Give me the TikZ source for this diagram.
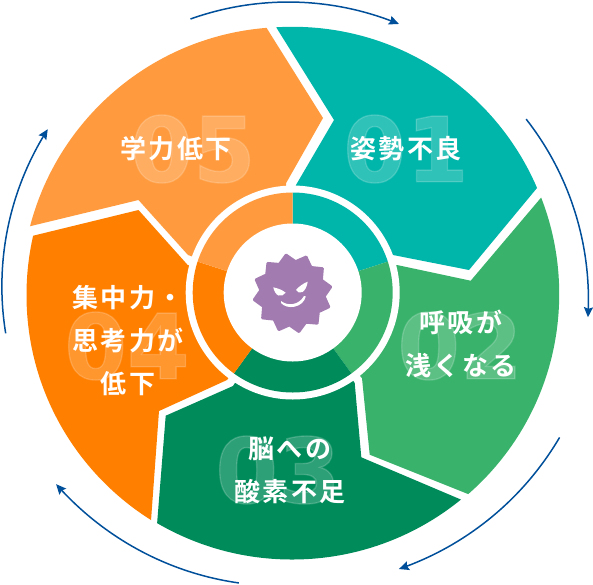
\documentclass[tikz,border=0pt]{standalone}
\usepackage{fontspec}
\usetikzlibrary{arrows.meta}
\newfontfamily\jpfont[LetterSpace=8,BoldFont={Noto Sans CJK JP Bold}]{Noto Sans CJK JP}
\newfontfamily\numfont[FakeBold=1.5]{DejaVu Sans Bold}
\definecolor{cteal}{HTML}{00B5A9}
\definecolor{cgreen}{HTML}{39B36B}
\definecolor{cdgreen}{HTML}{008C5A}
\definecolor{corange}{HTML}{FF7F00}
\definecolor{clorange}{HTML}{FF9B3E}
\definecolor{cpurple}{HTML}{A27BB0}
\definecolor{cblue}{HTML}{004F9A}
\tikzset{
  label/.style={text=white,font=\jpfont\bfseries\fontsize{26}{43}\selectfont,align=center,inner sep=0pt},
  bignum/.style={text=white,text opacity=0.18,font=\numfont\fontsize{90}{90}\selectfont,inner sep=0pt},
  cyc/.style={cblue,line width=1.5pt,-{Stealth[length=10pt,width=9pt,inset=1.5pt]}}
}
\newcommand{\cycarc}[4]{\draw[cyc] plot[domain=0:1,samples=40,smooth] ({292.7+(#3+(#4-#3)*\x)*cos(#1+(#2-#1)*\x)},{292.5+(#3+(#4-#3)*\x)*sin(#1+(#2-#1)*\x)});}
\begin{document}
\begin{tikzpicture}[x=1pt,y=1pt,yscale=-1]
\useasboundingbox (0,0) rectangle (593,584);
\coordinate (c) at (292.7,292.5);
% outer pieces
\begin{scope}
\clip (c) circle (265.7);
\fill[cteal] (276,27) -- (276,-20) -- (640,-20) -- (600,130) -- (537,188) -- (469,270) -- (393,255) -- (c) -- (296,185) -- (334,120) -- cycle;
\end{scope}
\begin{scope}
\clip (293.7,294) circle (265.5);
\fill[cgreen] (541,197.7) -- (620,150) -- (640,500) -- (520,540) -- (469.7,494.7) -- (369.7,454.7) -- (362,378.3) -- (c) -- (397,265) -- (470.7,280.7) -- cycle;
\end{scope}
\begin{scope}
\clip (292,291.5) circle (268);
\fill[cdgreen] (462,500) -- (520,560) -- (300,640) -- (100,600) -- (157,524.7) -- (165.7,415.7) -- (233,386) -- (c) -- (354.7,383) -- (361.3,457.3) -- cycle;
\end{scope}
\begin{scope}
\clip (292,295) circle (265.5);
\fill[corange] (151,520.7) -- (100,600) -- (-40,400) -- (-20,250) -- (32,236) -- (138.5,210) -- (187.7,265) -- (c) -- (227,380) -- (159,411) -- cycle;
\end{scope}
\begin{scope}
\clip (288,293.5) circle (266.5);
\fill[clorange] (31,226) -- (-20,240) -- (-20,0) -- (266,-20) -- (266,27) -- (323,118) -- (286,183.3) -- (c) -- (188,255) -- (138.5,200) -- cycle;
\end{scope}
% central ring
\fill[white] (c) circle (107);
\begin{scope}
\clip (c) circle (100);
\fill[cteal] (c) -- ++(-90:130) arc[start angle=-90,end angle=-18,radius=130] -- cycle;
\fill[cgreen] (c) -- ++(-18:130) arc[start angle=-18,end angle=54,radius=130] -- cycle;
\fill[cdgreen] (c) -- ++(54:130) arc[start angle=54,end angle=126,radius=130] -- cycle;
\fill[corange] (c) -- ++(126:130) arc[start angle=126,end angle=198,radius=130] -- cycle;
\fill[clorange] (c) -- ++(198:130) arc[start angle=198,end angle=270,radius=130] -- cycle;
\end{scope}
\fill[white] (c) circle (69);
% numbers
\node[bignum] (n1) at (406,149) {01};
\node[bignum] (n2) at (460,346) {02};
\node[bignum] (n3) at (278,470) {03};
\node[bignum] (n4) at (127,346) {04};
\node[bignum] (n5) at (193,149) {05};
% labels
\node[label] (t1) at (406,149) {姿勢不良};
\node[label] (t2) at (461,343.5) {呼吸が\\浅くなる};
\node[label] (t3) at (290,470.5) {脳への\\酸素不足};
\node[label] (t4) at (128,341) {集中力・\\思考力が\\低下};
\node[label] (t5) at (176,149) {学力低下};
% cycle arrows
\cycarc{249.5}{291.6}{292}{288.8}
\cycarc{-36.6}{4.8}{290.8}{296.3}
\cycarc{28.5}{69}{303.7}{296.2}
\cycarc{100.5}{141}{295.4}{304.5}
\cycarc{171.9}{213.7}{289.9}{294.4}
% germ
\fill[cpurple,draw=cpurple,line width=2.5pt,line join=round]
  plot[samples at={0,...,23}] ({292.5+(35.5+3.5*cos(180*\x))*cos(-99.5+15*\x)},{293.3+(35.5+3.5*cos(180*\x))*sin(-99.5+15*\x)}) -- cycle;
\fill[white] (273.3,287.3) .. controls (279,288.5) and (283,290.5) .. (285.7,292.7) .. controls (284,295) and (281,296.5) .. (278.5,295.5) .. controls (276,294.5) and (274,291) .. (273.3,287.3) -- cycle;
\fill[white] (307.7,281.7) .. controls (303,283.5) and (299,286.5) .. (296,290) .. controls (297.5,292.5) and (300,293.5) .. (302.5,292) .. controls (305,290.5) and (307,286.5) .. (307.7,281.7) -- cycle;
\fill[white] (281,301) .. controls (288,306.5) and (299,305) .. (304,296) -- (305.8,296.5) .. controls (303,308) and (287,310) .. (281,303) -- cycle;
\end{tikzpicture}
\end{document}
